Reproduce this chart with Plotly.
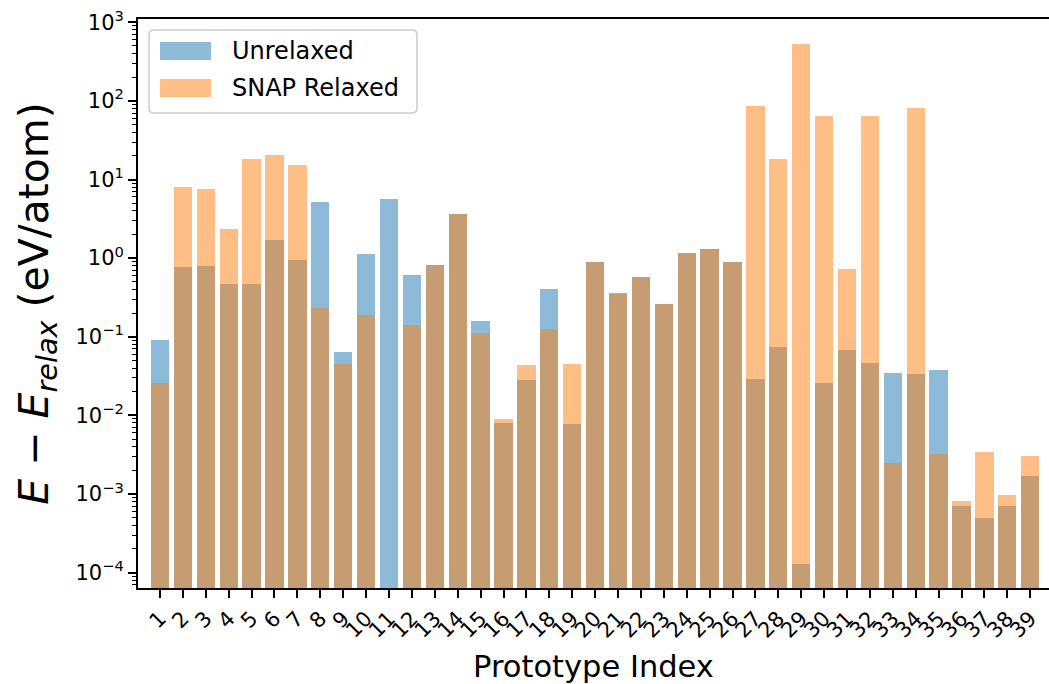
import plotly.graph_objects as go

# Energy above the relaxed reference for each prototype structure
prototype_index = list(range(1, 40))
unrelaxed = [
    0.091, 0.776, 0.80, 0.47, 0.47, 1.72, 0.935, 5.24, 0.064, 1.14,
    5.73, 0.61, 0.82, 3.6, 0.159, 0.00796, 0.0281, 0.407, 0.0077, 0.90,
    0.362, 0.58, 0.262, 1.17, 1.32, 0.90, 0.029, 0.074, 1.30e-4, 0.0258,
    0.068, 0.0463, 0.0345, 0.0336, 0.0378, 6.95e-4, 4.89e-4, 6.95e-4, 0.00168,
]
snap_relaxed = [
    0.026, 7.97, 7.67, 2.37, 18.2, 20.8, 15.5, 0.229, 0.045, 0.19,
    None, 0.141, 0.82, 3.6, 0.112, 0.00895, 0.0437, 0.126, 0.045, 0.90,
    0.348, 0.58, 0.262, 1.17, 1.32, 0.90, 85.3, 18.0, 527.0, 63.7,
    0.73, 63.7, 0.00245, 80.5, 0.0032, 8.05e-4, 0.0034, 9.6e-4, 0.0030,
]
series_names = ["Unrelaxed", "SNAP Relaxed"]
series_colors = ["#1f77b4", "#ff7f0e"]

ytick_vals = [1e-4, 1e-3, 1e-2, 1e-1, 1e0, 1e1, 1e2, 1e3]
ytick_text = ["10<sup>−4</sup>", "10<sup>−3</sup>", "10<sup>−2</sup>", "10<sup>−1</sup>",
              "10<sup>0</sup>", "10<sup>1</sup>", "10<sup>2</sup>", "10<sup>3</sup>"]
xtick_text = [str(i) for i in prototype_index]

FONT = "DejaVu Sans"
W, H = 1049, 684
ML, MR, MT, MB = 138, 0, 19, 96
PW, PH = W - ML - MR, H - MT - MB

minor_vals = [k * 10.0 ** e for e in range(-5, 3) for k in range(2, 10)]

fig = go.Figure()
for name, vals, col in zip(series_names, [unrelaxed, snap_relaxed], series_colors):
    fig.add_trace(go.Bar(
        x=prototype_index, y=vals, name=name, width=0.8,
        marker=dict(color=col, line=dict(width=0)), opacity=0.5,
        showlegend=False,
    ))


def px(x):
    return (x - ML) / PW


def py(y):
    return (H - MB - y) / PH


# legend box with rounded corners
x0, x1, y0, y1, r = 149, 417, 30, 113, 5
path = (f"M {px(x0 + r)} {py(y0)} L {px(x1 - r)} {py(y0)} Q {px(x1)} {py(y0)} {px(x1)} {py(y0 + r)} "
        f"L {px(x1)} {py(y1 - r)} Q {px(x1)} {py(y1)} {px(x1 - r)} {py(y1)} "
        f"L {px(x0 + r)} {py(y1)} Q {px(x0)} {py(y1)} {px(x0)} {py(y1 - r)} "
        f"L {px(x0)} {py(y0 + r)} Q {px(x0)} {py(y0)} {px(x0 + r)} {py(y0)} Z")
shapes = [dict(type="path", xref="paper", yref="paper", path=path,
               fillcolor="rgba(255,255,255,0.8)", line=dict(color="#cccccc", width=1.5))]
annotations = []
for i, (name, col) in enumerate(zip(series_names, series_colors)):
    yc = 51 + i * 37
    shapes.append(dict(type="rect", xref="paper", yref="paper",
                       x0=px(160), x1=px(211), y0=py(yc - 9), y1=py(yc + 9),
                       fillcolor=col, opacity=0.5, line=dict(width=0)))
    annotations.append(dict(xref="paper", yref="paper", x=px(230), y=py(yc),
                            xanchor="left", yanchor="middle", text=name, showarrow=False,
                            font=dict(family=FONT, size=24, color="black")))

fig.update_layout(
    width=W, height=H,
    margin=dict(l=ML, r=MR, t=MT, b=MB, pad=0),
    paper_bgcolor="white", plot_bgcolor="white",
    barmode="overlay", bargap=0,
    font=dict(family=FONT, color="black"),
    shapes=shapes, annotations=annotations,
    xaxis=dict(
        range=[0.04, 39.82], tickmode="array", tickvals=prototype_index, ticktext=xtick_text,
        tickangle=-45, tickfont=dict(size=21), ticks="outside", ticklen=8, tickwidth=1.8,
        tickcolor="black", showline=True, linecolor="black", linewidth=1.8, mirror=True,
        showgrid=False, zeroline=False,
        title=dict(text="Prototype Index", font=dict(size=30.5), standoff=15),
    ),
    yaxis=dict(
        type="log", range=[-4.196, 3.042], tickmode="array", tickvals=ytick_vals,
        ticktext=ytick_text, tickfont=dict(size=21), ticks="outside", ticklen=8,
        tickwidth=1.8, tickcolor="black", showline=True, linecolor="black", linewidth=1.8,
        showgrid=False, zeroline=False,
        minor=dict(tickmode="array", tickvals=minor_vals, ticks="outside", ticklen=4.5,
                   tickwidth=1.2, tickcolor="black", showgrid=False),
        title=dict(text="<i>E</i> − <i>E</i><sub><i>relax</i></sub> (eV/atom)",
                   font=dict(size=41), standoff=14),
    ),
)

fig.write_html("out.html")
